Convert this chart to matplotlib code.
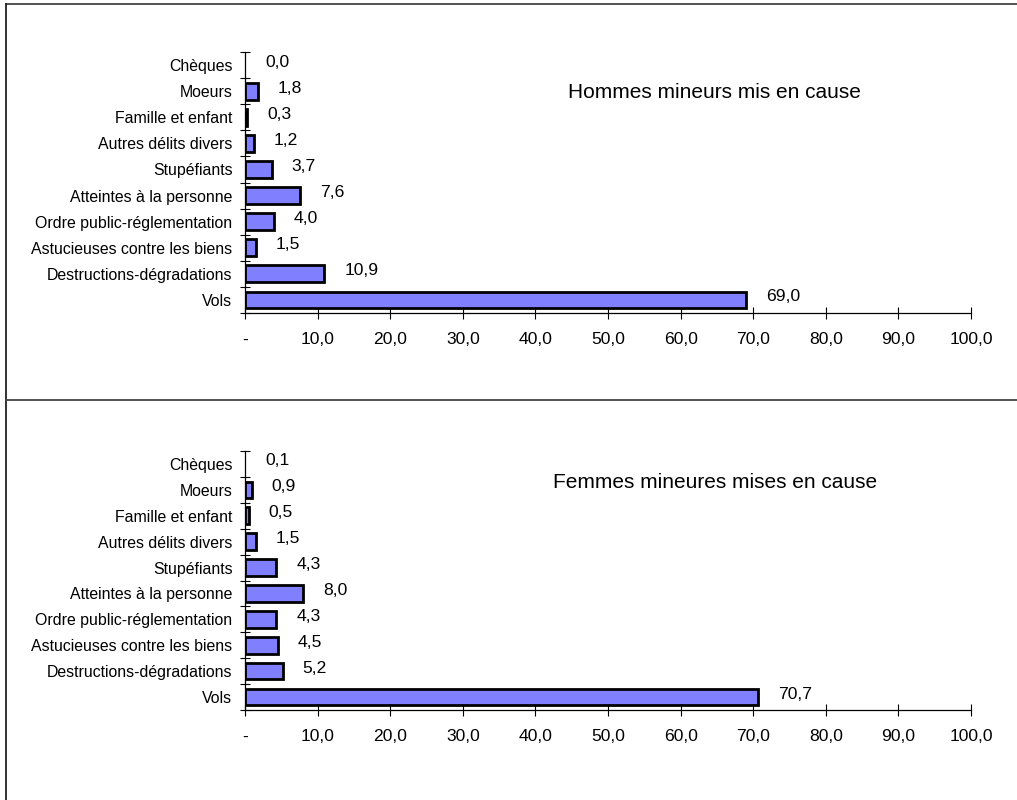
import matplotlib
matplotlib.use("Agg")
import matplotlib.pyplot as plt
from matplotlib.lines import Line2D

plt.rcParams['font.family'] = ['Liberation Sans', 'DejaVu Sans']

categories = ["Vols", "Destructions-dégradations", "Astucieuses contre les biens",
              "Ordre public-réglementation", "Atteintes à la personne", "Stupéfiants",
              "Autres délits divers", "Famille et enfant", "Moeurs", "Chèques"]
hommes = [69.0, 10.9, 1.5, 4.0, 7.6, 3.7, 1.2, 0.3, 1.8, 0.0]
femmes = [70.7, 5.2, 4.5, 4.3, 8.0, 4.3, 1.5, 0.5, 0.9, 0.1]
titles = ["Hommes mineurs mis en cause", "Femmes mineures mises en cause"]
xticks = [0, 10, 20, 30, 40, 50, 60, 70, 80, 90, 100]
xticklabels = ["-"] + ["%d,0" % t for t in xticks[1:]]

W, H = 1017, 800
fig = plt.figure(figsize=(W / 100, H / 100), dpi=100)

# panel frames
fig.add_artist(Line2D([6 / W, 1], [1 - 4 / H, 1 - 4 / H], color="#444444", lw=1.3))
fig.add_artist(Line2D([6 / W, 6 / W], [0, 1 - 4 / H], color="#222222", lw=1.3))
fig.add_artist(Line2D([6 / W, 1], [1 - 400 / H, 1 - 400 / H], color="#444444", lw=1.3))

panels = [(hommes, 52, 313, titles[0], (568, 92)),
          (femmes, 451, 710, titles[1], (553, 483))]

for vals, ytop, ybot, title, (tx, ty) in panels:
    ax = fig.add_axes([245 / W, 1 - ybot / H, 726 / W, (ybot - ytop) / H])
    y = list(range(len(categories)))
    lws = [0 if v < 0.2 else 2.0 for v in vals]
    ax.barh(y, vals, height=0.64, color="#8080FF", edgecolor="black", linewidth=lws)
    for i, v in enumerate(vals):
        ax.annotate(("%.1f" % v).replace(".", ","), (v, i), xytext=(20, 3),
                    textcoords="offset pixels", ha="left", va="center", fontsize=12.6)
    ax.set_xlim(0, 100)
    ax.set_ylim(-0.5, len(categories) - 0.5)
    ax.set_xticks(xticks)
    ax.set_xticklabels(xticklabels, fontsize=12.6)
    ax.tick_params(axis="x", direction="inout", length=8, width=0.8, pad=10)
    ax.set_yticks([i - 0.5 for i in range(len(categories) + 1)])
    ax.set_yticklabels([])
    ax.tick_params(axis="y", which="major", direction="inout", length=7, width=0.8)
    ax.set_yticks(y, minor=True)
    ax.set_yticklabels(categories, minor=True, fontsize=11.4)
    ax.tick_params(axis="y", which="minor", length=0, pad=9)
    for s in ["top", "right"]:
        ax.spines[s].set_visible(False)
    for s in ["left", "bottom"]:
        ax.spines[s].set_linewidth(0.9)
    fig.text(tx / W, 1 - ty / H, title, ha="left", va="center", fontsize=15)

fig.savefig("out.png", dpi=100)
